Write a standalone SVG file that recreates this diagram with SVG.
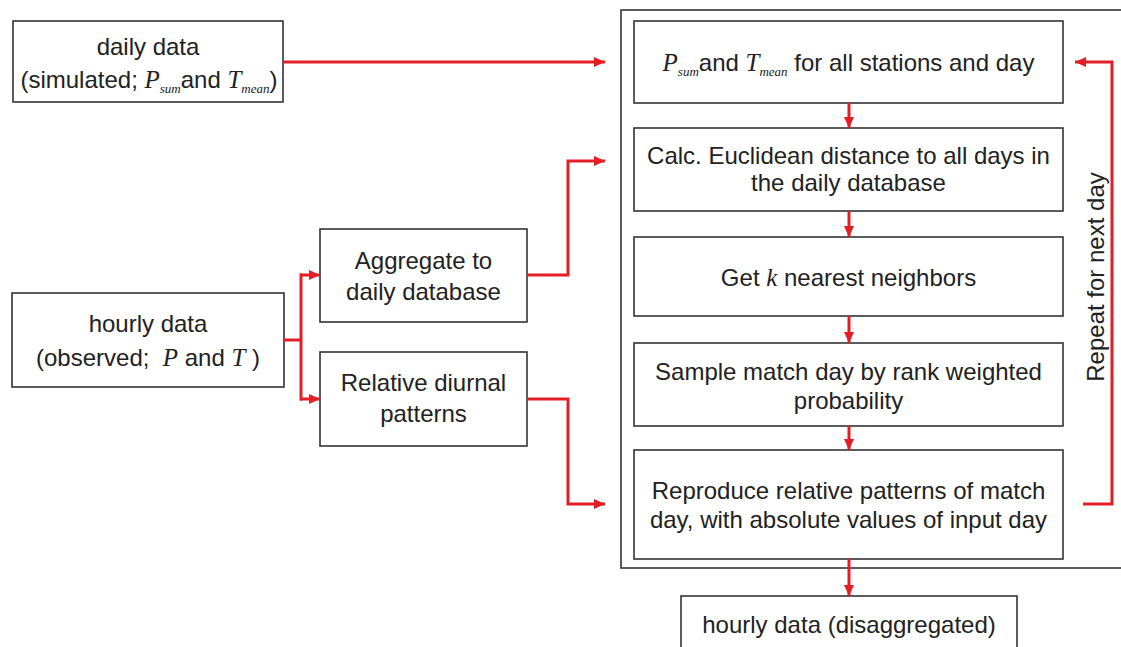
<svg xmlns="http://www.w3.org/2000/svg" width="1121" height="647" viewBox="0 0 1121 647">
<style>
.box{fill:#fff;stroke:#333;stroke-width:1.6}
.t{font-family:"Liberation Sans",Arial,sans-serif;font-size:24px;fill:#222;text-anchor:middle}
.m{font-family:"Liberation Serif","Times New Roman",serif;font-style:italic;font-size:25px}
.s{font-family:"Liberation Serif","Times New Roman",serif;font-style:italic;font-size:13px}
.c{fill:none;stroke:#e31e24;stroke-width:3}
</style>
<defs>
<marker id="ah" markerUnits="userSpaceOnUse" markerWidth="12" markerHeight="10" refX="11" refY="5" orient="auto">
<path d="M0,0 L11,5 L0,10 z" fill="#e31e24"/>
</marker>
</defs>
<rect width="1121" height="647" fill="#fff"/>
<g id="frame"><rect class="box" x="621" y="10" width="520" height="558"/></g>
<g id="daily">
<rect class="box" x="13" y="21" width="270" height="81"/>
<text class="t" x="148" y="55">daily data</text>
<text class="t" x="149" y="88">(simulated; <tspan class="m">P</tspan><tspan class="s" dy="5">sum</tspan><tspan dy="-5">and </tspan><tspan class="m">T</tspan><tspan class="s" dy="5">mean</tspan><tspan dy="-5">)</tspan></text>
</g>
<g id="hourly">
<rect class="box" x="12" y="293" width="272" height="94"/>
<text class="t" x="148" y="332">hourly data</text>
<text class="t" x="148" y="366" xml:space="preserve">(observed;  <tspan class="m">P</tspan> and <tspan class="m">T</tspan> )</text>
</g>
<g id="aggregate">
<rect class="box" x="320" y="229" width="207" height="93"/>
<text class="t" x="423.5" y="269">Aggregate to</text>
<text class="t" x="423.5" y="300">daily database</text>
</g>
<g id="relative">
<rect class="box" x="320" y="352" width="207" height="94"/>
<text class="t" x="423.5" y="391">Relative diurnal</text>
<text class="t" x="423.5" y="422">patterns</text>
</g>
<g id="step1">
<rect class="box" x="634" y="21" width="429" height="82"/>
<text class="t" x="848.5" y="71"><tspan class="m">P</tspan><tspan class="s" dy="5">sum</tspan><tspan dy="-5">and </tspan><tspan class="m">T</tspan><tspan class="s" dy="5">mean</tspan><tspan dy="-5"> for all stations and day</tspan></text>
</g>
<g id="step2">
<rect class="box" x="634" y="128" width="429" height="83"/>
<text class="t" x="848.5" y="164">Calc. Euclidean distance to all days in</text>
<text class="t" x="848.5" y="191">the daily database</text>
</g>
<g id="step3">
<rect class="box" x="634" y="237" width="429" height="79"/>
<text class="t" x="848.5" y="286">Get <tspan class="m">k</tspan> nearest neighbors</text>
</g>
<g id="step4">
<rect class="box" x="634" y="343" width="429" height="83"/>
<text class="t" x="848.5" y="380">Sample match day by rank weighted</text>
<text class="t" x="848.5" y="409">probability</text>
</g>
<g id="step5">
<rect class="box" x="634" y="450" width="429" height="109"/>
<text class="t" x="848.5" y="499">Reproduce relative patterns of match</text>
<text class="t" x="848.5" y="528">day, with absolute values of input day</text>
</g>
<g id="output">
<rect class="box" x="681" y="596" width="336" height="70"/>
<text class="t" x="849" y="633">hourly data (disaggregated)</text>
</g>
<g id="repeat-label">
<text class="t" transform="translate(1104,277) rotate(-90)" x="0" y="0">Repeat for next day</text>
</g>
<g id="connectors">
<path class="c" d="M283,62 H605" marker-end="url(#ah)"/>
<path class="c" d="M849,103 V128" marker-end="url(#ah)"/>
<path class="c" d="M849,211 V237" marker-end="url(#ah)"/>
<path class="c" d="M849,316 V343" marker-end="url(#ah)"/>
<path class="c" d="M849,426 V450" marker-end="url(#ah)"/>
<path class="c" d="M849,559 V596" marker-end="url(#ah)"/>
<path class="c" d="M1083,504 H1112 V62 H1075" marker-end="url(#ah)"/>
<path class="c" d="M284,340 H301"/>
<path class="c" d="M301,273.5 V400.5"/>
<path class="c" d="M300,275 H320" marker-end="url(#ah)"/>
<path class="c" d="M300,399 H320" marker-end="url(#ah)"/>
<path class="c" d="M527,275 H568 V161 H605" marker-end="url(#ah)"/>
<path class="c" d="M527,399 H568 V504 H605" marker-end="url(#ah)"/>
</g>
</svg>
